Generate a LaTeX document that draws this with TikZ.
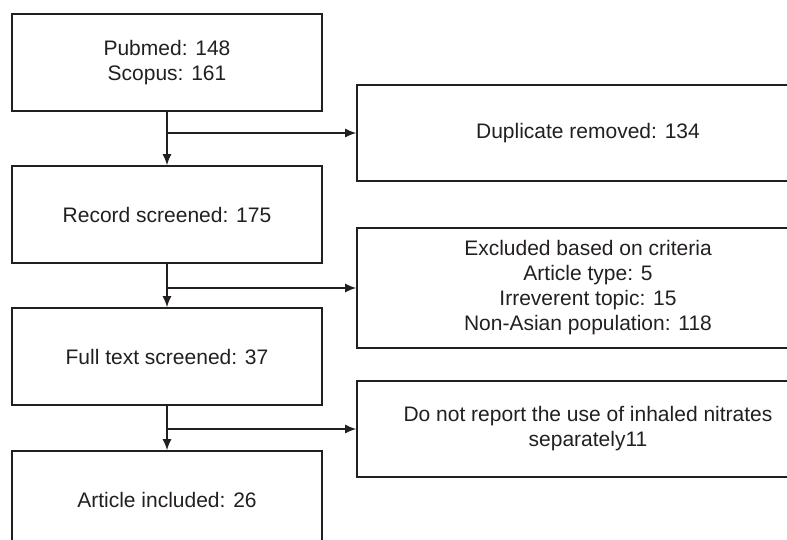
\documentclass[tikz,border=0pt]{standalone}
\usepackage{fontspec}
\setmainfont{Liberation Sans}
\usetikzlibrary{arrows.meta}
\definecolor{ink}{HTML}{231F20}

\begin{document}
\begin{tikzpicture}[x=1pt, y=-1pt,
    box/.style={draw=ink, line width=1.8pt, align=center, inner sep=0pt,
        text=ink, font=\fontsize{21}{25}\selectfont},
    leftbox/.style={box, minimum width=310pt, minimum height=97pt},
    rightbox/.style={box, minimum width=462pt, minimum height=96pt},
    flow/.style={draw=ink, line width=1.1pt, -{Latex[length=11pt, width=9pt]}}]
    \useasboundingbox (0, 0) rectangle (787, 540);
    \clip (0, 0) rectangle (787, 540);

    % main stages
    \node[leftbox] (search) at (167, 62.5) {Pubmed: 148\\Scopus: 161};
    \node[leftbox] (screen) at (167, 214.5) {Record screened: 175};
    \node[leftbox] (full) at (167, 356.5) {Full text screened: 37};
    \node[leftbox] (incl) at (167, 499.5) {Article included: 26};

    % removed records
    \node[rightbox] (dup) at (588, 133) {Duplicate removed: 134};
    \node[rightbox, minimum height=120pt] (excl) at (588, 288)
        {Excluded based on criteria\\Article type: 5\\Irreverent topic: 15\\Non-Asian population: 118};
    \node[rightbox] (nosep) at (588, 429)
        {Do not report the use of inhaled nitrates\\separately11};

    \draw[flow] (search) -- (screen);
    \draw[flow] (screen) -- (full);
    \draw[flow] (full) -- (incl);

    \draw[flow] (search.south |- dup.west) -- (dup.west);
    \draw[flow] (screen.south |- excl.west) -- (excl.west);
    \draw[flow] (full.south |- nosep.west) -- (nosep.west);

\end{tikzpicture}
\end{document}
